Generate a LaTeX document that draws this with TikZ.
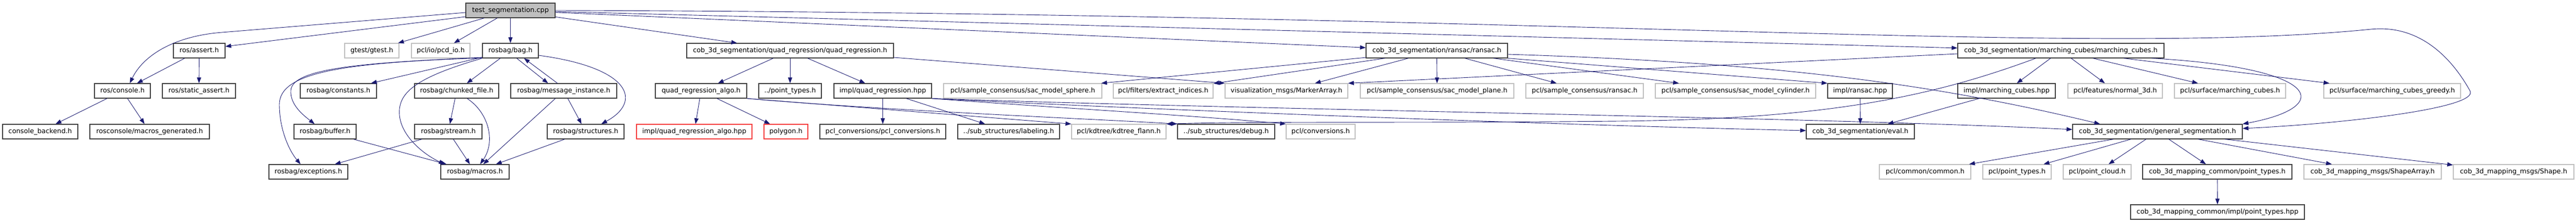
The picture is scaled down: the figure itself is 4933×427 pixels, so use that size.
\documentclass[tikz,border=0pt]{standalone}
\usepackage{fontspec}
\setmainfont{DejaVu Sans}
\usetikzlibrary{arrows.meta}

\definecolor{edgeblue}{RGB}{25,25,112}
\definecolor{darkedge}{RGB}{64,64,64}
\definecolor{lightedge}{RGB}{191,191,191}
\definecolor{missred}{RGB}{245,60,60}
\definecolor{rootfill}{RGB}{191,191,191}

\tikzset{
    box/.style={rectangle, line width=1.2pt, minimum height=28pt, inner sep=0pt,
        text height=9.6pt, text depth=3pt, font=\fontsize{12.8}{15}\selectfont},
    inc/.style={box, draw=darkedge},
    ext/.style={box, draw=lightedge},
    miss/.style={box, draw=missred},
    root/.style={inc, fill=rootfill},
    dep/.style={draw=edgeblue, line width=0.9pt, -{Triangle[length=11pt,width=8pt]}}
}

\begin{document}
\begin{tikzpicture}[x=1pt, y=-1pt]
    \useasboundingbox (0,0) rectangle (4933,427);

    % source file
    \node[root, minimum width=171] (test) at (977.5,20) {test\_segmentation.cpp};

    % row 1
    \node[inc, minimum width=99]  (assert)  at (381.5,97)  {ros/assert.h};
    \node[ext, minimum width=104] (gtest)   at (712,97)    {gtest/gtest.h};
    \node[ext, minimum width=112] (pcdio)   at (844,97)    {pcl/io/pcd\_io.h};
    \node[inc, minimum width=107] (bag)     at (977.5,97)  {rosbag/bag.h};
    \node[inc, minimum width=396] (quadreg) at (1513,97)   {cob\_3d\_segmentation/quad\_regression/quad\_regression.h};
    \node[inc, minimum width=271] (ransac)  at (2751.5,97) {cob\_3d\_segmentation/ransac/ransac.h};
    \node[inc, minimum width=395] (mcubes)  at (3946.5,97) {cob\_3d\_segmentation/marching\_cubes/marching\_cubes.h};

    % row 2
    \node[inc, minimum width=107] (console)      at (234.5,174)  {ros/console.h};
    \node[inc, minimum width=140] (staticassert) at (381,174)    {ros/static\_assert.h};
    \node[inc, minimum width=146] (constants)    at (648,174)    {rosbag/constants.h};
    \node[inc, minimum width=161] (chunked)      at (874.5,174)  {rosbag/chunked\_file.h};
    \node[inc, minimum width=203] (msginst)      at (1079.5,174) {rosbag/message\_instance.h};
    \node[inc, minimum width=175] (qralgo)       at (1342.5,174) {quad\_regression\_algo.h};
    \node[inc, minimum width=120] (ptypes)       at (1513,174)   {../point\_types.h};
    \node[inc, minimum width=187] (qrhpp)        at (1690.5,174) {impl/quad\_regression.hpp};
    \node[ext, minimum width=303] (sphere)       at (1958.5,174) {pcl/sample\_consensus/sac\_model\_sphere.h};
    \node[ext, minimum width=191] (extract)      at (2227.5,174) {pcl/filters/extract\_indices.h};
    \node[ext, minimum width=235] (marker)       at (2463.5,174) {visualization\_msgs/MarkerArray.h};
    \node[ext, minimum width=294] (plane)        at (2752,174)   {pcl/sample\_consensus/sac\_model\_plane.h};
    \node[ext, minimum width=225] (sacransac)    at (3034.5,174) {pcl/sample\_consensus/ransac.h};
    \node[ext, minimum width=307] (cylinder)     at (3323.5,174) {pcl/sample\_consensus/sac\_model\_cylinder.h};
    \node[inc, minimum width=124] (ransachpp)    at (3562,174)   {impl/ransac.hpp};
    \node[inc, minimum width=187] (mchpp)        at (3842.5,174) {impl/marching\_cubes.hpp};
    \node[ext, minimum width=181] (normal)       at (4050.5,174) {pcl/features/normal\_3d.h};
    \node[ext, minimum width=213] (surfmc)       at (4270.5,174) {pcl/surface/marching\_cubes.h};
    \node[ext, minimum width=262] (greedy)       at (4581,174)   {pcl/surface/marching\_cubes\_greedy.h};

    % row 3
    \node[inc, minimum width=144] (backend)     at (77,252)     {console\_backend.h};
    \node[inc, minimum width=229] (macrosgen)   at (286.5,252)  {rosconsole/macros\_generated.h};
    \node[inc, minimum width=119] (buffer)      at (622.5,252)  {rosbag/buffer.h};
    \node[inc, minimum width=129] (stream)      at (858.5,252)  {rosbag/stream.h};
    \node[inc, minimum width=147] (structures)  at (1121.5,252) {rosbag/structures.h};
    \node[miss, minimum width=221] (qralgohpp)  at (1329.5,252) {impl/quad\_regression\_algo.hpp};
    \node[miss, minimum width=84] (polygon)     at (1505,252)   {polygon.h};
    \node[inc, minimum width=241] (pclconv)     at (1690.5,252) {pcl\_conversions/pcl\_conversions.h};
    \node[inc, minimum width=195] (labeling)    at (1931.5,252) {../sub\_structures/labeling.h};
    \node[ext, minimum width=181] (kdtree)      at (2142.5,252) {pcl/kdtree/kdtree\_flann.h};
    \node[inc, minimum width=186] (debug)       at (2348,252)   {../sub\_structures/debug.h};
    \node[ext, minimum width=132] (conversions) at (2529,252)   {pcl/conversions.h};
    \node[inc, minimum width=207] (eval)        at (3562.5,252) {cob\_3d\_segmentation/eval.h};
    \node[inc, minimum width=325] (gseg)        at (4131.5,252) {cob\_3d\_segmentation/general\_segmentation.h};

    % row 4
    \node[inc, minimum width=151] (exceptions) at (590.5,329)  {rosbag/exceptions.h};
    \node[inc, minimum width=131] (macros)     at (909.5,329)  {rosbag/macros.h};
    \node[ext, minimum width=175] (common)     at (3686.5,329) {pcl/common/common.h};
    \node[ext, minimum width=131] (pcltypes)   at (3862.5,329) {pcl/point\_types.h};
    \node[ext, minimum width=130] (pclcloud)   at (4016,329)   {pcl/point\_cloud.h};
    \node[inc, minimum width=286] (mctypes)    at (4246,329)   {cob\_3d\_mapping\_common/point\_types.h};
    \node[ext, minimum width=263] (shapearray) at (4543.5,329) {cob\_3d\_mapping\_msgs/ShapeArray.h};
    \node[ext, minimum width=231] (shape)      at (4813.5,329) {cob\_3d\_mapping\_msgs/Shape.h};

    % row 5
    \node[inc, minimum width=333] (mctypeshpp) at (4246.5,406) {cob\_3d\_mapping\_common/impl/point\_types.hpp};

    % includes of the source file
    \draw[dep] ([yshift=-4]test.west) -- (425,62) .. controls (335,69) and (275,105) .. ([xshift=14]console.north);
    \draw[dep] ([yshift=-12]test.west) -- ([yshift=8]assert.east);
    \draw[dep] (test) -- (gtest);
    \draw[dep] (test) -- (pcdio);
    \draw[dep] (test) -- (bag);
    \draw[dep] (test) -- (quadreg);
    \draw[dep] (test) -- (ransac);
    \draw[dep] (test) -- (mcubes);
    \draw[dep] (test.east) .. controls (3000,25) and (4000,110) .. (4540,56)
        .. controls (4640,46) and (4700,120) .. (4730,174)
        .. controls (4748,206) and (4500,236) .. ([yshift=6]gseg.east);

    % ros
    \draw[dep] (assert) -- (console);
    \draw[dep] (assert) -- (staticassert);
    \draw[dep] (console) -- (backend);
    \draw[dep] (console) -- (macrosgen);

    % rosbag
    \draw[dep] (bag) -- (constants);
    \draw[dep] ([yshift=-13]bag.west) .. controls (700,120) and (560,130) .. (557,173)
        .. controls (555,200) and (580,220) .. ([xshift=-20]buffer.north);
    \draw[dep] ([yshift=-14]bag.west) .. controls (650,120) and (535,140) .. (535,200)
        .. controls (535,250) and (555,290) .. ([xshift=-15]exceptions.north);
    \draw[dep] (bag.south west) .. controls (790,150) and (762,180) .. (765,220)
        .. controls (768,260) and (810,295) .. ([xshift=8]macros.north west);
    \draw[dep] (bag) -- (chunked);
    \draw[dep] ([xshift=12]bag.south) -- ([xshift=-30]msginst.north);
    \draw[dep] ([xshift=-12]msginst.north) -- ([xshift=26]bag.south);
    \draw[dep] ([yshift=-9]bag.east) .. controls (1210,130) and (1230,195) .. ([xshift=30]structures.north);
    \draw[dep] (msginst) -- (macros);
    \draw[dep] (msginst) -- (structures);
    \draw[dep] (chunked) -- (stream);
    \draw[dep] ([xshift=20]chunked.south) .. controls (935,215) and (950,270) .. ([xshift=10]macros.north);
    \draw[dep] (stream) -- (macros);
    \draw[dep] (stream) -- (exceptions);
    \draw[dep] (buffer) -- (macros);
    \draw[dep] (structures) -- (macros);

    % quad regression
    \draw[dep] (quadreg) -- (qralgo);
    \draw[dep] (quadreg) -- (ptypes);
    \draw[dep] (quadreg) -- (qrhpp);
    \draw[dep] ([yshift=-13]quadreg.east) -- (marker.north west);
    \draw[dep] (qralgo) -- (qralgohpp);
    \draw[dep] (qralgo) -- (polygon);
    \draw[dep] (qralgo.south east) -- (kdtree.north west);
    \draw[dep] (qralgo.south east) .. controls (1700,212) and (2100,228) .. (debug.north west);
    \draw[dep] (qrhpp) -- (pclconv);
    \draw[dep] (qrhpp) -- (labeling);
    \draw[dep] (qrhpp.south east) .. controls (2000,205) and (2300,222) .. (conversions.north west);
    \draw[dep] (qrhpp.south east) .. controls (2200,210) and (3000,240) .. ([yshift=2]eval.west);
    \draw[dep] (qrhpp.south east) .. controls (2400,210) and (3500,225) .. ([yshift=4]gseg.west);

    % ransac
    \draw[dep] (ransac) -- (sphere);
    \draw[dep] (ransac) -- (extract);
    \draw[dep] (ransac) -- (marker);
    \draw[dep] (ransac) -- (plane);
    \draw[dep] (ransac) -- (sacransac);
    \draw[dep] (ransac) -- (cylinder);
    \draw[dep] (ransac.south east) -- (ransachpp.north west);
    \draw[dep] ([yshift=-7]ransac.east) .. controls (3400,120) and (3700,160) .. ([xshift=-110]gseg.north);
    \draw[dep] (ransachpp) -- (eval);

    % marching cubes
    \draw[dep] (mcubes) -- (mchpp);
    \draw[dep] (mcubes) -- (normal);
    \draw[dep] (mcubes) -- (surfmc);
    \draw[dep] (mcubes) -- (greedy);
    \draw[dep] ([xshift=-24]mcubes.south east) .. controls (4450,130) and (4470,205) .. (gseg.north east);
    \draw[dep] ([yshift=-6]mcubes.west) -- (marker.north east);
    \draw[dep] ([xshift=-48]mcubes.south) .. controls (3700,185) and (3500,228) .. (3100,232)
        .. controls (2700,236) and (2400,232) .. (kdtree.north east);
    \draw[dep] (mchpp) -- (eval);

    % general segmentation
    \draw[dep] (gseg) -- (common);
    \draw[dep] (gseg) -- (pcltypes);
    \draw[dep] (gseg) -- (pclcloud);
    \draw[dep] (gseg) -- (mctypes);
    \draw[dep] (gseg) -- (shapearray);
    \draw[dep] (gseg) -- (shape);
    \draw[dep] (mctypes) -- (mctypeshpp);
\end{tikzpicture}
\end{document}
